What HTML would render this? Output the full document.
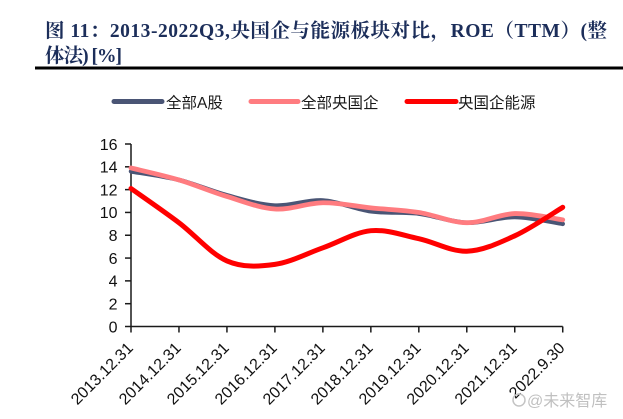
<!DOCTYPE html>
<html><head><meta charset="utf-8">
<style>
html,body{margin:0;padding:0;background:#fff;}
svg{display:block;}
</style></head>
<body>
<svg id="c" width="623" height="419" viewBox="0 0 623 419" xmlns="http://www.w3.org/2000/svg">
<rect width="623" height="419" fill="#fff"/>
<text x="45" y="37" font-family="'Liberation Serif','Noto Serif CJK SC',serif" font-weight="bold" font-size="19.5" fill="#1c2e5a" textLength="562" lengthAdjust="spacing">图 11：2013-2022Q3,央国企与能源板块对比，ROE（TTM）(整</text>
<text x="45" y="62" font-family="'Liberation Serif','Noto Serif CJK SC',serif" font-weight="bold" font-size="19.5" fill="#1c2e5a" textLength="77" lengthAdjust="spacing">体法) [%]</text>
<rect x="35" y="66.5" width="588" height="3" fill="#000"/>

<line x1="114" y1="101.5" x2="162" y2="101.5" stroke="#4a5575" stroke-width="5" stroke-linecap="round"/>
<text x="166" y="108" font-family="'Liberation Sans','Noto Sans CJK SC',sans-serif" font-size="15.5" fill="#1a1a1a">全部A股</text>
<line x1="251" y1="101.5" x2="298" y2="101.5" stroke="#ff7c80" stroke-width="5" stroke-linecap="round"/>
<text x="301" y="108" font-family="'Liberation Sans','Noto Sans CJK SC',sans-serif" font-size="15.5" fill="#1a1a1a">全部央国企</text>
<line x1="407" y1="101.5" x2="456" y2="101.5" stroke="#ff0000" stroke-width="5" stroke-linecap="round"/>
<text x="458" y="108" font-family="'Liberation Sans','Noto Sans CJK SC',sans-serif" font-size="15.5" fill="#1a1a1a">央国企能源</text>

<g id="axes" stroke="#1a1a1a" stroke-width="1.5" fill="none"></g>
<g id="ylab" font-family="'Liberation Sans',Arial,sans-serif" font-size="16" fill="#111" text-anchor="end"></g>
<g id="xlab" font-family="'Liberation Sans',Arial,sans-serif" font-size="16" fill="#111" text-anchor="end"></g>
<g id="series" fill="none" stroke-linejoin="round" stroke-linecap="round"></g>

<circle cx="519" cy="400" r="6" fill="none" stroke="#c4c4c4" stroke-width="1.5"/>
<text x="527" y="406" font-family="'Liberation Sans','Noto Sans CJK SC',sans-serif" font-size="16" fill="#c0c0c0">@未来智库</text>
</svg>
<script>
(function(){
  var NS="http://www.w3.org/2000/svg";
  var x0=131, dx=47.97, y0=326.5, k=(326.5-144)/16;
  function X(i){return x0+dx*i;}
  function Y(v){return y0-v*k;}
  var axes=document.getElementById('axes');
  function el(tag,attrs,parent,txt){var e=document.createElementNS(NS,tag);for(var a in attrs)e.setAttribute(a,attrs[a]);if(txt!==undefined)e.textContent=txt;parent.appendChild(e);return e;}
  el('line',{x1:x0,y1:144,x2:x0,y2:y0},axes);
  el('line',{x1:x0,y1:y0,x2:X(9),y2:y0},axes);
  var yl=document.getElementById('ylab');
  for(var v=0;v<=16;v+=2){
    el('line',{x1:x0-6,y1:Y(v),x2:x0,y2:Y(v)},axes);
    el('text',{x:117.5,y:Y(v)+5.8},yl,String(v));
  }
  var labels=["2013.12.31","2014.12.31","2015.12.31","2016.12.31","2017.12.31","2018.12.31","2019.12.31","2020.12.31","2021.12.31","2022.9.30"];
  var xl=document.getElementById('xlab');
  for(var i=0;i<10;i++){
    el('line',{x1:X(i),y1:y0,x2:X(i),y2:y0+6},axes);
    var px=X(i)+3, py=349;
    el('text',{x:px,y:py,transform:'rotate(-45 '+px+' '+py+')'},xl,labels[i]);
  }
  var data=[
    {c:"#4a5575",w:4.5,v:[13.6,12.85,11.5,10.6,11.05,10.1,9.9,9.1,9.6,9.0]},
    {c:"#ff7c80",w:4.8,v:[13.9,12.85,11.4,10.3,10.85,10.4,10.0,9.1,9.9,9.35]},
    {c:"#ff0000",w:5,v:[12.1,9.1,5.75,5.45,6.9,8.4,7.7,6.6,7.95,10.45]}
  ];
  var sg=document.getElementById('series');
  data.forEach(function(s){
    var p=s.v.map(function(v,i){return [X(i),Y(v)];});
    var d="M"+p[0][0].toFixed(2)+","+p[0][1].toFixed(2);
    for(var i=0;i<p.length-1;i++){
      var a=p[i-1]||p[i], b=p[i], c=p[i+1], e=p[i+2]||p[i+1];
      var c1=[b[0]+(c[0]-a[0])/6, b[1]+(c[1]-a[1])/6];
      var c2=[c[0]-(e[0]-b[0])/6, c[1]-(e[1]-b[1])/6];
      d+=" C"+c1[0].toFixed(2)+","+c1[1].toFixed(2)+" "+c2[0].toFixed(2)+","+c2[1].toFixed(2)+" "+c[0].toFixed(2)+","+c[1].toFixed(2);
    }
    el('path',{d:d,stroke:s.c,'stroke-width':s.w},sg);
  });
})();
</script>
</body></html>
